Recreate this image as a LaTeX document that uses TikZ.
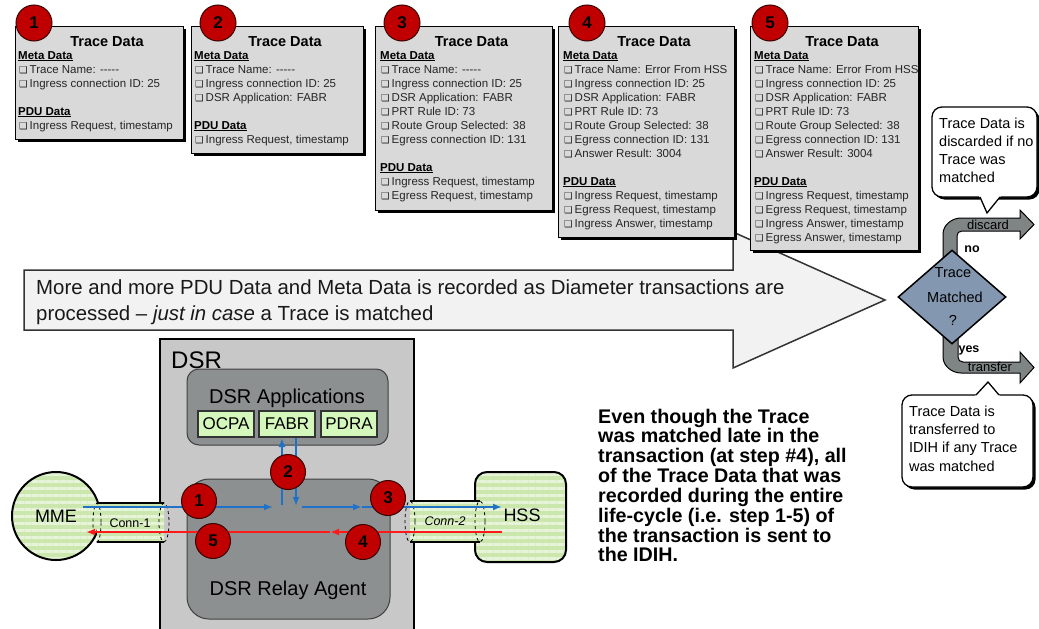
\documentclass[tikz,border=0pt]{standalone}
\usepackage{fontspec}
\setmainfont{Liberation Sans}
\newfontfamily\dejavu{DejaVu Sans}
\usetikzlibrary{arrows.meta,shapes.geometric,patterns.meta,shadows}
\definecolor{boxgray}{HTML}{D9D9D9}
\definecolor{arrowfill}{HTML}{F2F2F2}
\definecolor{dsrgray}{HTML}{C8C8C8}
\definecolor{darkbox}{HTML}{8C9090}
\definecolor{appgreen}{HTML}{D4F8BC}
\definecolor{mmegreen}{HTML}{CBE7AE}
\definecolor{mmestripe}{HTML}{E8F4DA}
\definecolor{stepred}{HTML}{C00000}
\definecolor{stepdark}{HTML}{3A0000}
\definecolor{decblue}{HTML}{8497B0}
\definecolor{bandgray}{HTML}{7F8585}
\definecolor{flowblue}{HTML}{1F72C8}
\definecolor{flowred}{HTML}{FF1A1A}
\newcommand\chk{{\dejavu\fontsize{9.5}{9.5}\selectfont ❑}\hspace{2pt}}
\newcommand\tdsection[5]{%
  \node[tdhdr] (#1h) at (#2,#3) {\underline{#4}};%
  \foreach \itm [count=\i] in {#5} {\node[tditem] (#1\i) at (#2+1,{#3+14*\i}) {\chk\itm};}%
}
\newcommand\dashes{\mbox{-{}-{}-{}-{}-}}
\begin{document}
\begin{tikzpicture}[x=1pt,y=-1pt,
  tbox/.style={draw=black, line width=1pt, fill=boxgray, inner sep=0pt, anchor=north west,
    drop shadow={shadow xshift=2pt, shadow yshift=-2pt, fill=black, opacity=1}},
  tdtitle/.style={anchor=base, inner sep=0pt, font=\bfseries\fontsize{14.5}{17}\selectfont},
  tdhdr/.style={anchor=base west, inner sep=0pt, font=\bfseries\fontsize{11.5}{14}\selectfont},
  tditem/.style={anchor=base west, inner sep=0pt, font=\fontsize{11.5}{14}\selectfont, text=black!85},
  stepcirc/.style={circle, fill=stepred, draw=stepdark, line width=1pt, minimum size=35pt,
    inner sep=0pt, font=\bfseries\fontsize{17}{17}\selectfont},
  bigarrow/.style={fill=arrowfill, draw=black!80, line width=1.5pt},
  arrowtxt/.style={anchor=base west, inner sep=0pt, font=\fontsize{20.4}{24}\selectfont, text=black!90},
  greenfill/.style={preaction={fill=mmegreen}, pattern={Lines[angle=0,distance=7pt,line width=3pt]}, pattern color=mmestripe},
  appbox/.style={draw=black!80, line width=1.2pt, fill=appgreen, minimum width=56pt, minimum height=26pt,
    inner sep=0pt, font=\fontsize{17}{17}\selectfont},
  lbl/.style={anchor=base, inner sep=0pt},
  blueln/.style={draw=flowblue, line width=1.8pt, -{Latex[length=9pt,width=7pt]}},
  redln/.style={draw=flowred, line width=2pt, -{Latex[length=9pt,width=7pt]}},
  band/.style={fill=bandgray, draw=black, line width=1pt},
  callout/.style={fill=white, draw=black, line width=1.3pt},
  calltxt/.style={anchor=base west, inner sep=0pt, font=\fontsize{14.5}{18}\selectfont},
  boldtxt/.style={anchor=base west, inner sep=0pt, font=\bfseries\fontsize{19.7}{20}\selectfont}
]
\useasboundingbox (0,0) rectangle (1039,629);
\fill[white] (0,0) rectangle (1039,629);

% big arrow
\draw[bigarrow] (24,270) -- (733,270) -- (733,232) -- (885,300) -- (733,368) -- (733,330) -- (24,330) -- cycle;
\node[arrowtxt] (at1) at (36,294) {More and more PDU Data and Meta Data is recorded as Diameter transactions are};
\node[arrowtxt] (at2) at (36,320) {processed – \textit{just in case} a Trace is matched};

% trace boxes
\node[tbox, minimum width=168pt, minimum height=113pt] (td1) at (15,26) {};
\node[tbox, minimum width=172pt, minimum height=127pt] (td2) at (191,26) {};
\node[tbox, minimum width=177pt, minimum height=184pt] (td3) at (375,26) {};
\node[tbox, minimum width=176pt, minimum height=211pt] (td4) at (558,26) {};
\node[tbox, minimum width=168pt, minimum height=224pt] (td5) at (750,26) {};

\node[tdtitle] (tt1) at (107,46) {Trace Data};
\node[tdtitle] (tt2) at (285,46) {Trace Data};
\node[tdtitle] (tt3) at (471.5,46) {Trace Data};
\node[tdtitle] (tt4) at (654,46) {Trace Data};
\node[tdtitle] (tt5) at (842,46) {Trace Data};

\tdsection{am}{18}{59}{Meta Data}{{Trace Name: \dashes},{Ingress connection ID: 25}}
\tdsection{ap}{18}{115}{PDU Data}{{Ingress Request, timestamp}}

\tdsection{bm}{194}{59}{Meta Data}{{Trace Name: \dashes},{Ingress connection ID: 25},{DSR Application: FABR}}
\tdsection{bp}{194}{129}{PDU Data}{{Ingress Request, timestamp}}

\tdsection{cm}{380}{59}{Meta Data}{{Trace Name: \dashes},{Ingress connection ID: 25},{DSR Application: FABR},{PRT Rule ID: 73},{Route Group Selected: 38},{Egress connection ID: 131}}
\tdsection{cp}{380}{171}{PDU Data}{{Ingress Request, timestamp},{Egress Request, timestamp}}

\tdsection{dm}{563}{59}{Meta Data}{{Trace Name: Error From HSS},{Ingress connection ID: 25},{DSR Application: FABR},{PRT Rule ID: 73},{Route Group Selected: 38},{Egress connection ID: 131},{Answer Result: 3004}}
\tdsection{dp}{563}{185}{PDU Data}{{Ingress Request, timestamp},{Egress Request, timestamp},{Ingress Answer, timestamp}}

\tdsection{em}{754}{59}{Meta Data}{{Trace Name: Error From HSS},{Ingress connection ID: 25},{DSR Application: FABR},{PRT Rule ID: 73},{Route Group Selected: 38},{Egress connection ID: 131},{Answer Result: 3004}}
\tdsection{ep}{754}{185}{PDU Data}{{Ingress Request, timestamp},{Egress Request, timestamp},{Ingress Answer, timestamp},{Egress Answer, timestamp}}

\node[stepcirc, minimum size=36pt] (tc1) at (34,23) {1};
\node[stepcirc, minimum size=36pt] (tc2) at (218,23) {2};
\node[stepcirc, minimum size=36pt] (tc3) at (402,23) {3};
\node[stepcirc, minimum size=36pt] (tc4) at (587,23) {4};
\node[stepcirc, minimum size=36pt] (tc5) at (770,23) {5};

% DSR
\draw[fill=dsrgray, draw=black, line width=2pt] (160,339) rectangle (414,634);
\draw[fill=darkbox, draw=black!75, line width=1pt, rounded corners=12pt] (187,369) rectangle (388,445);
\node[anchor=base west, inner sep=0pt, font=\fontsize{24}{24}\selectfont] (dsrt) at (171,368.5) {DSR};
\node[lbl, font=\fontsize{20}{20}\selectfont] (appt) at (287,403) {DSR Applications};
\node[appbox] (ocpa) at (226,424) {OCPA};
\node[appbox] (fabr) at (287,424) {FABR};
\node[appbox] (pdra) at (349,424) {PDRA};
\draw[fill=darkbox, draw=black!75, line width=1pt, rounded corners=22pt] (187,479) rectangle (390,619);
\node[lbl, font=\fontsize{20}{20}\selectfont] (relt) at (288,595) {DSR Relay Agent};

% MME, HSS, connections
\node[circle, draw=black, line width=2pt, greenfill, minimum size=88pt, inner sep=0pt, font=\fontsize{18}{18}\selectfont] (mme) at (56,516) {MME};
\draw[greenfill, draw=black, line width=2pt, rounded corners=12pt] (475,472) rectangle (566,562);
\node[lbl, font=\fontsize{18}{18}\selectfont] (hss) at (522,521.5) {HSS};

\path[greenfill] (97,503) rectangle (164,542);
\draw[line width=1.5pt] (97,503) -- (164,503) (97,542) -- (164,542);
\draw[dashed, line width=0.8pt] (97,522.5) ellipse [x radius=4, y radius=19.5];
\draw[dashed, line width=0.8pt] (164,522.5) ellipse [x radius=5, y radius=19.5];
\node[lbl, font=\fontsize{12.5}{12.5}\selectfont] (c1t) at (130,527.5) {Conn-1};

\path[greenfill] (410,501) rectangle (480,542);
\draw[line width=1.5pt] (410,501) -- (480,501) (410,542) -- (480,542);
\draw[dashed, line width=0.8pt] (410,521.5) ellipse [x radius=5, y radius=20.5];
\draw[dashed, line width=0.8pt] (480,521.5) ellipse [x radius=5, y radius=20.5];
\node[lbl, font=\itshape\fontsize{12.5}{12.5}\selectfont] (c2t) at (445,525.5) {Conn-2};

% flows
\coordinate (bA) at (83,507);
\coordinate (bB) at (273,507);
\coordinate (bUpS) at (282,505);
\coordinate (bUpE) at (282,438);
\coordinate (bDnS) at (296,438);
\coordinate (bDnE) at (296,506);
\coordinate (bC) at (302,507);
\coordinate (bM) at (362,507);
\coordinate (bE) at (502,507);
\coordinate (rA) at (502,532);
\coordinate (rM) at (330,532);
\coordinate (rE) at (86,532);
\draw[blueln] (bA) -- (bB);
\draw[blueln] (bUpS) -- (bUpE);
\draw[blueln] (bDnS) -- (bDnE);
\draw[blueln] (bC) -- (bM);
\draw[blueln] (bM) -- (bE);
\draw[redln] (rA) -- (rM);
\draw[redln] (rM) -- (rE);

\node[stepcirc] (s1) at (199,501) {1};
\node[stepcirc] (s2) at (288,472) {2};
\node[stepcirc] (s3) at (388,498) {3};
\node[stepcirc] (s4) at (363,542) {4};
\node[stepcirc] (s5) at (213,541) {5};

% decision
\draw[band] (943,262) -- (943,234) .. controls (943,225) and (952,218) .. (961,218) -- (1020,218) -- (1020,210) -- (1034,224.5) -- (1020,239) -- (1020,231) -- (962,231) .. controls (959,231) and (957,233) .. (957,236) -- (957,262) -- cycle;
\draw[band] (943,335) -- (943,357) .. controls (943,366) and (952,373) .. (961,373) -- (1020,373) -- (1020,383) -- (1034,367.5) -- (1020,352) -- (1020,362) -- (963,362) .. controls (960,362) and (958,360) .. (958,357) -- (958,335) -- cycle;
\node[lbl, font=\fontsize{13}{13}\selectfont] (disc) at (988,229.5) {discard};
\node[lbl, font=\fontsize{13}{13}\selectfont] (trans) at (990,371.5) {transfer};
\node[diamond, minimum width=108pt, minimum height=94pt, inner sep=0pt, fill=decblue, draw=black, line width=1.5pt] (dec) at (952,297) {};
\node[lbl, font=\fontsize{14.5}{14.5}\selectfont] (dt1) at (953,277.5) {Trace};
\node[lbl, font=\fontsize{14.5}{14.5}\selectfont] (dt2) at (955,302.5) {Matched};
\node[lbl, font=\fontsize{14.5}{14.5}\selectfont] (dt3) at (953,325.5) {?};
\node[lbl, font=\bfseries\fontsize{12.5}{12.5}\selectfont] (no) at (972,252.5) {no};
\node[lbl, font=\bfseries\fontsize{12.5}{12.5}\selectfont] (yes) at (969,352.5) {yes};

% callouts
\fill[black, rounded corners=10pt] (934.5,109.5) rectangle (1039.5,199.5);
\draw[callout, rounded corners=10pt] (932,107) rectangle (1037,197);
\fill[white] (979,195.8) -- (987,213) -- (1001,195.8) -- cycle;
\draw[line width=1.3pt] (980,197) -- (987,213) -- (1000,197);
\foreach \ln [count=\i] in {Trace Data is, discarded if no, Trace was, matched}
  {\node[calltxt] (ca\i) at (939,{128.2+18*(\i-1)}) {\ln};}

\fill[black, rounded corners=10pt] (904.5,397.5) rectangle (1035.5,489.5);
\draw[callout, rounded corners=10pt] (902,395) rectangle (1033,487);
\fill[white] (975,396.2) -- (988,382) -- (1000,396.2) -- cycle;
\draw[line width=1.3pt] (976,395) -- (988,382) -- (999,395);
\foreach \ln [count=\i] in {Trace Data is, transferred to, IDIH if any Trace, was matched}
  {\node[calltxt] (cb\i) at (909,{416.2+18.3*(\i-1)}) {\ln};}

% note
\foreach \ln [count=\i] in {Even though the Trace, was matched late in the, {transaction (at step \#4), all}, of the Trace Data that was, recorded during the entire, {life-cycle (i.e. step 1-5) of}, the transaction is sent to, the IDIH.}
  {\node[boldtxt] (note\i) at (598,{423+19.85*(\i-1)}) {\ln};}
\end{tikzpicture}
\end{document}
